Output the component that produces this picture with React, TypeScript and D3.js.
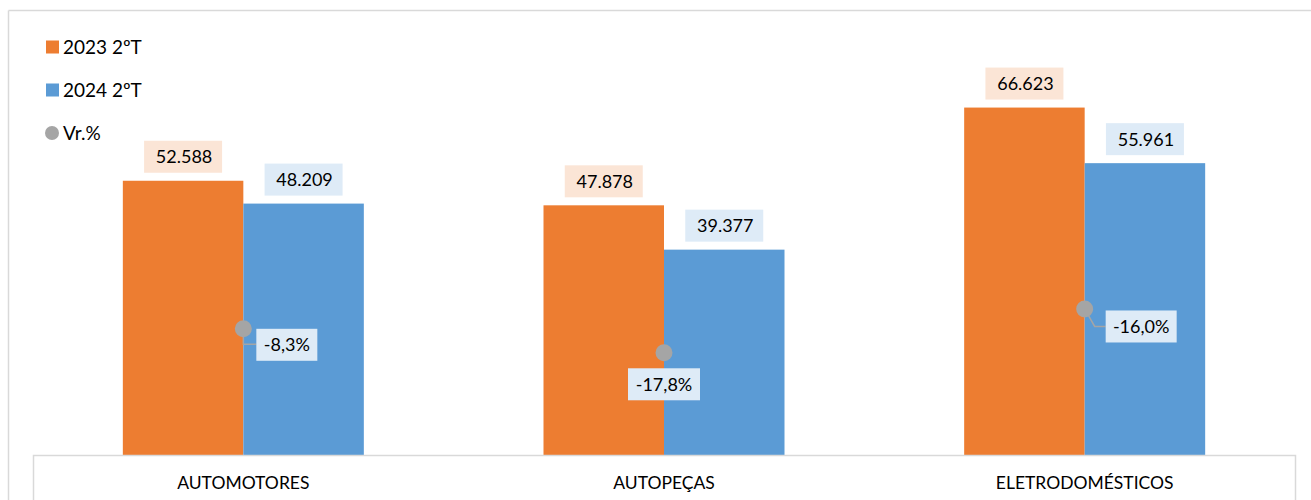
import React from "react";
import * as d3 from "d3";

const categories = ["AUTOMOTORES", "AUTOPEÇAS", "ELETRODOMÉSTICOS"];
const seriesNames = ["2023 2ºT", "2024 2ºT"];
const values2023 = [52.588, 47.878, 66.623];
const values2024 = [48.209, 39.377, 55.961];
const vrLabels = ["-8,3%", "-17,8%", "-16,0%"];
// marker levels (in primary axis units) where the Vr.% markers sit
const vrLevels = [24.2, 19.6, 28.0];
const vrLabelSide = ["right", "below", "rightDiag"];
const legendNames = ["2023 2ºT", "2024 2ºT", "Vr.%"];

const W = 1311;
const H = 500;
const ORANGE = "#ED7D31";
const BLUE = "#5B9BD5";
const GRAY = "#A5A5A5";
const ORANGE_BG = "#FBE5D6";
const BLUE_BG = "#DEEBF7";
const BORDER = "#D9D9D9";
const FONT = "Lato, 'Open Sans', sans-serif";

const fmt = (v: number) => d3.format(".3f")(v);

export default function App() {
  const x0 = d3.scaleBand<string>().domain(categories).range([33, 1295]).padding(0);
  const groupW = 241;
  const x1 = d3.scaleBand<string>().domain(seriesNames).range([0, groupW]).padding(0);
  const y = d3.scaleLinear().domain([0, 80]).range([455, 455 - 417.2]);

  const colors = [ORANGE, BLUE];
  const bgs = [ORANGE_BG, BLUE_BG];
  const seriesVals = [values2023, values2024];

  const labelW = 78;
  const labelH = 32;

  return (
    <div style={{ position: "absolute", left: 0, top: 0 }}>
      <svg width={W} height={H} style={{ display: "block", background: "#fff" }}>
        {/* outer border */}
        <line x1={8.5} y1={10.5} x2={W} y2={10.5} stroke={BORDER} strokeWidth={1.5} />
        <line x1={8.5} y1={10.5} x2={8.5} y2={H} stroke={BORDER} strokeWidth={1.5} />

        {/* bars */}
        {categories.map((c, i) => {
          const gx = (x0(c) as number) + x0.bandwidth() / 2 - groupW / 2;
          return seriesNames.map((s, j) => {
            const v = seriesVals[j][i];
            const bx = gx + (x1(s) as number);
            const bw = x1.bandwidth();
            const top = y(v);
            const cx = bx + bw / 2;
            return (
              <g key={c + s}>
                <rect x={bx} y={top} width={bw} height={y(0) - top} fill={colors[j]} />
                <rect
                  x={cx - labelW / 2}
                  y={top - 8 - labelH}
                  width={labelW}
                  height={labelH}
                  fill={bgs[j]}
                />
                <text
                  x={cx + 1}
                  y={top - 8 - labelH / 2}
                  dy="0.36em"
                  textAnchor="middle"
                  fontFamily={FONT}
                  fontSize={18}
                  fill="#000"
                >
                  {fmt(v)}
                </text>
              </g>
            );
          });
        })}

        {/* Vr.% markers */}
        {categories.map((c, i) => {
          const cx = (x0(c) as number) + x0.bandwidth() / 2;
          const cy = y(vrLevels[i]);
          const side = vrLabelSide[i];
          let box = { x: 0, y: 0, w: 0, h: 32 };
          let leader: string | null = null;
          if (side === "right") {
            box = { x: cx + 13, y: cy, w: 61, h: 32 };
            leader = `M${cx},${cy + 8}V${cy + 15.5}H${box.x}`;
          } else if (side === "below") {
            box = { x: cx - 36, y: cy + 15.5, w: 72, h: 32 };
          } else {
            box = { x: cx + 21, y: cy + 1.5, w: 71, h: 32 };
            leader = `M${cx + 4},${cy + 7}L${cx + 10},${cy + 17.5}H${box.x}`;
          }
          return (
            <g key={"vr" + c}>
              {leader && <path d={leader} fill="none" stroke={GRAY} strokeWidth={1.5} />}
              <circle cx={cx} cy={cy} r={8.5} fill={GRAY} />
              <rect x={box.x} y={box.y} width={box.w} height={box.h} fill={BLUE_BG} />
              <text
                x={box.x + box.w / 2}
                y={box.y + box.h / 2}
                dy="0.36em"
                textAnchor="middle"
                fontFamily={FONT}
                fontSize={18}
                fill="#000"
              >
                {vrLabels[i]}
              </text>
            </g>
          );
        })}

        {/* category axis table */}
        <path
          d={`M33.5,${H}V455.5H1295.5V${H}`}
          fill="none"
          stroke={BORDER}
          strokeWidth={1.5}
        />
        {categories.map((c) => (
          <text
            key={"ax" + c}
            x={(x0(c) as number) + x0.bandwidth() / 2}
            y={489}
            textAnchor="middle"
            fontFamily={FONT}
            fontSize={17.5}
            fill="#000"
          >
            {c}
          </text>
        ))}

        {/* legend */}
        {legendNames.map((n, i) => {
          const cy = 47 + i * 43;
          return (
            <g key={"lg" + n}>
              {i < 2 ? (
                <rect x={46} y={cy - 6.5} width={13} height={13} fill={colors[i]} />
              ) : (
                <circle cx={52} cy={cy} r={7} fill={GRAY} />
              )}
              <text x={63} y={cy} dy="0.36em" fontFamily={FONT} fontSize={19} fill="#000">
                {n}
              </text>
            </g>
          );
        })}
      </svg>
    </div>
  );
}
